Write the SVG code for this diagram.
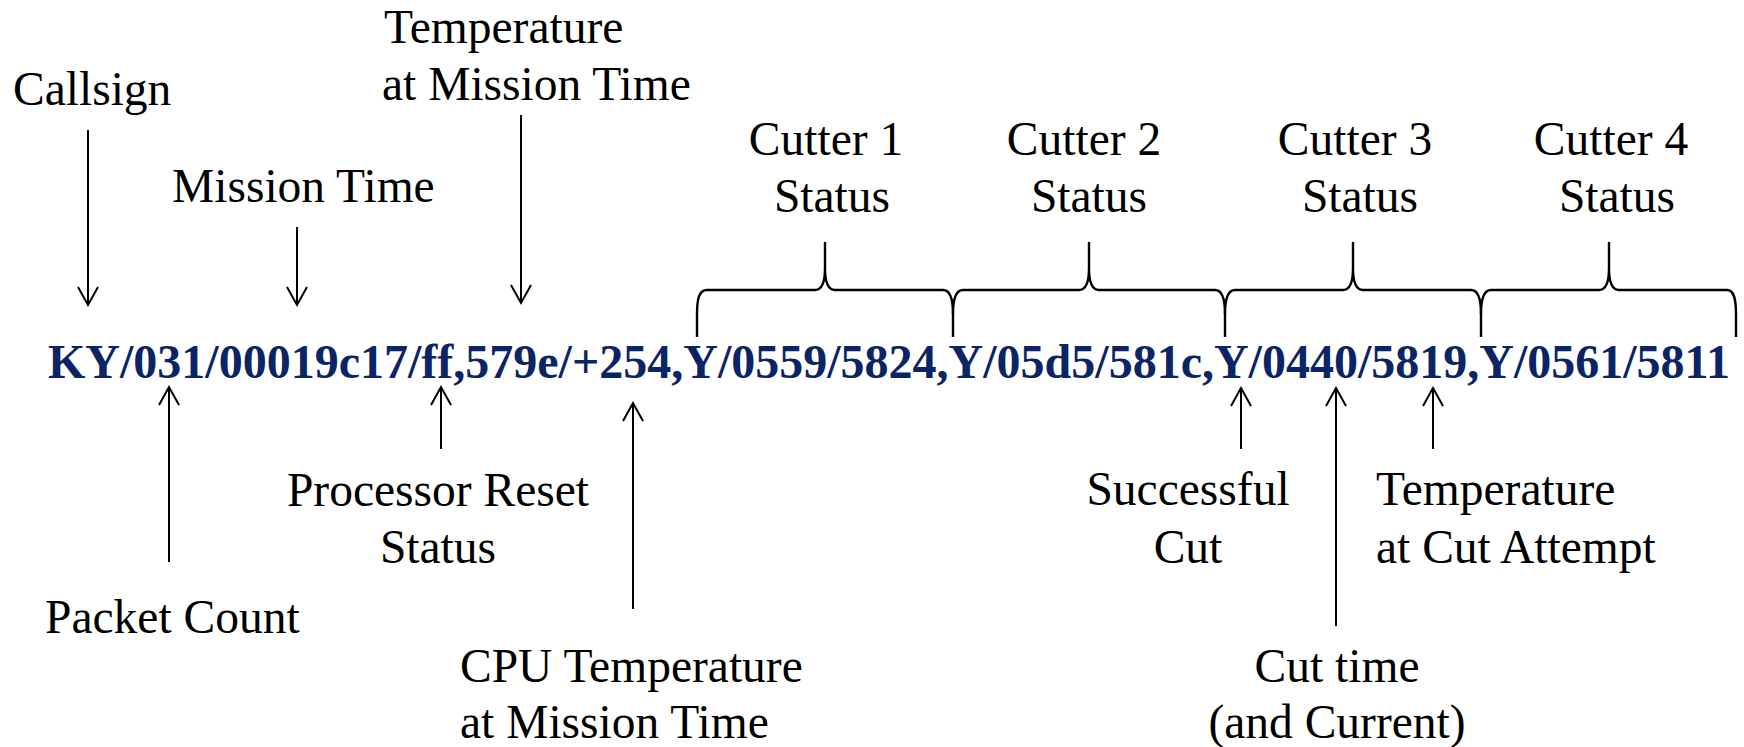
<svg xmlns="http://www.w3.org/2000/svg" width="1744" height="747" viewBox="0 0 1744 747">
  <style>
    .lbl { font-family: "Liberation Serif", "Times New Roman", serif; font-size: 47.5px; fill: #000; }
    .mid { text-anchor: middle; }
    .packet { font-family: "Liberation Serif", "Times New Roman", serif; font-size: 48px; font-weight: bold; fill: #0a2466; }
    .arrow { stroke: #000; stroke-width: 2; fill: none; marker-end: url(#head); }
    .brace { stroke: #000; stroke-width: 2.4; fill: none; stroke-linejoin: round; }
  </style>
  <defs>
    <marker id="head" viewBox="-20 -12 24 24" refX="0" refY="0" markerWidth="24" markerHeight="24" markerUnits="userSpaceOnUse" orient="auto">
      <path d="M-18,-10 L0,0 L-18,10" fill="none" stroke="#000" stroke-width="2"/>
    </marker>
  </defs>

  <rect width="1744" height="747" fill="#fff"/>

  <!-- telemetry packet string -->
  <g id="packet">
    <text class="packet" x="48" y="378">KY/031/00019c17/ff,579e/+254,Y/0559/5824,Y/05d5/581c,Y/0440/5819,Y/0561/5811</text>
  </g>

  <!-- field labels -->
  <g id="callsign"><text class="lbl" x="13" y="105">Callsign</text></g>
  <g id="mission-time"><text class="lbl" x="172" y="202">Mission Time</text></g>
  <g id="temp-mission">
    <text class="lbl" x="384" y="43">Temperature</text>
    <text class="lbl" x="382" y="100">at Mission Time</text>
  </g>
  <g id="packet-count"><text class="lbl" x="45" y="633">Packet Count</text></g>
  <g id="reset-status">
    <text class="lbl mid" x="438" y="506">Processor Reset</text>
    <text class="lbl mid" x="438" y="563">Status</text>
  </g>
  <g id="cpu-temp">
    <text class="lbl" x="460" y="682">CPU Temperature</text>
    <text class="lbl" x="460" y="738">at Mission Time</text>
  </g>
  <g id="successful-cut">
    <text class="lbl mid" x="1188" y="505">Successful</text>
    <text class="lbl mid" x="1188" y="563">Cut</text>
  </g>
  <g id="cut-time">
    <text class="lbl mid" x="1337" y="682">Cut time</text>
    <text class="lbl mid" x="1337" y="738">(and Current)</text>
  </g>
  <g id="temp-cut">
    <text class="lbl" x="1376" y="505">Temperature</text>
    <text class="lbl" x="1376" y="563">at Cut Attempt</text>
  </g>
  <g id="cutter1">
    <text class="lbl mid" x="826" y="155">Cutter 1</text>
    <text class="lbl mid" x="832" y="212">Status</text>
  </g>
  <g id="cutter2">
    <text class="lbl mid" x="1084" y="155">Cutter 2</text>
    <text class="lbl mid" x="1089" y="212">Status</text>
  </g>
  <g id="cutter3">
    <text class="lbl mid" x="1355" y="155">Cutter 3</text>
    <text class="lbl mid" x="1360" y="212">Status</text>
  </g>
  <g id="cutter4">
    <text class="lbl mid" x="1611" y="155">Cutter 4</text>
    <text class="lbl mid" x="1617" y="212">Status</text>
  </g>

  <!-- connectors: pointer arrows and cutter braces -->
  <g id="connectors">
    <line class="arrow" x1="88" y1="130" x2="88" y2="305"/>
    <line class="arrow" x1="297" y1="227" x2="297" y2="305"/>
    <line class="arrow" x1="521" y1="115" x2="521" y2="303"/>
    <line class="arrow" x1="169" y1="562" x2="169" y2="387"/>
    <line class="arrow" x1="441" y1="449" x2="441" y2="387"/>
    <line class="arrow" x1="633" y1="609" x2="633" y2="403"/>
    <line class="arrow" x1="1241" y1="449" x2="1241" y2="388"/>
    <line class="arrow" x1="1336" y1="626" x2="1336" y2="388"/>
    <line class="arrow" x1="1433" y1="449" x2="1433" y2="388"/>

    <path class="brace" d="M697,337 V314 C697,299 699,290 707,290 H815 C821,290 825,284 825,268 V242 M825,268 C825,284 829,290 835,290 H943 C950,290 953,299 953,314 V337"/>
    <path class="brace" d="M953,314 C953,299 956,290 963,290 H1079 C1085,290 1089,284 1089,268 V242 M1089,268 C1089,284 1093,290 1099,290 H1215 C1222,290 1225,299 1225,314 V337"/>
    <path class="brace" d="M1225,314 C1225,299 1228,290 1235,290 H1343 C1349,290 1353,284 1353,268 V242 M1353,268 C1353,284 1357,290 1363,290 H1471 C1478,290 1481,299 1481,314 V337"/>
    <path class="brace" d="M1481,314 C1481,299 1484,290 1491,290 H1599 C1605,290 1609,284 1609,268 V242 M1609,268 C1609,284 1613,290 1619,290 H1727 C1734,290 1736,299 1736,314 V337"/>
  </g>
</svg>
